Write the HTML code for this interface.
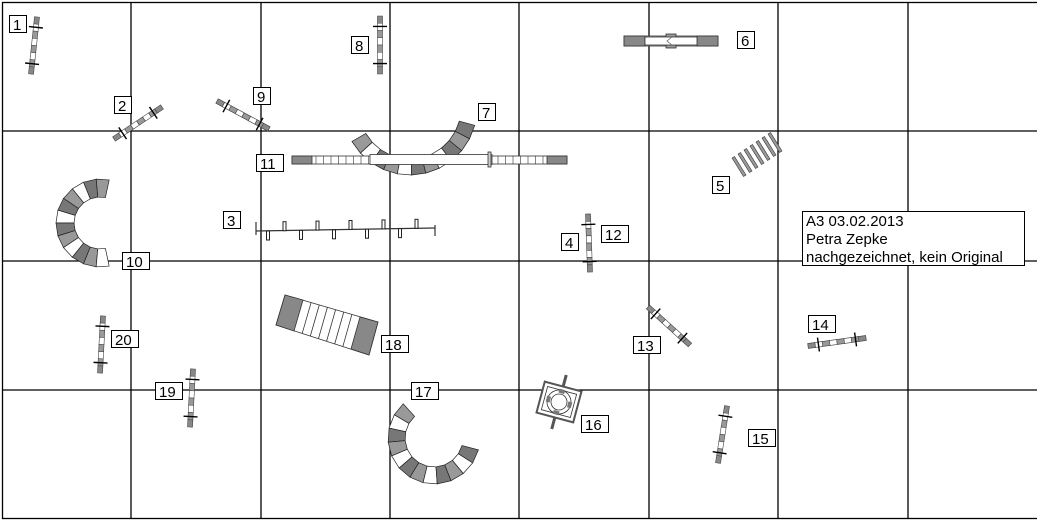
<!DOCTYPE html>
<html><head><meta charset="utf-8"><style>
html,body{margin:0;padding:0;background:#fff;width:1037px;height:521px;overflow:hidden}
svg{display:block}
text{font-family:"Liberation Sans",sans-serif;font-size:15px;fill:#000}
</style></head><body>
<svg id="s" width="1037" height="521" viewBox="0 0 1037 521">
<g stroke="#000" stroke-width="1.3" fill="none">
<rect x="2.5" y="2.5" width="1040" height="516"/>
<line x1="131" y1="2" x2="131" y2="519"/><line x1="261" y1="2" x2="261" y2="519"/>
<line x1="390" y1="2" x2="390" y2="519"/><line x1="519" y1="2" x2="519" y2="519"/>
<line x1="649" y1="2" x2="649" y2="519"/><line x1="778" y1="2" x2="778" y2="519"/>
<line x1="908" y1="2" x2="908" y2="519"/>
<line x1="2" y1="131" x2="1037" y2="131"/><line x1="2" y1="261" x2="1037" y2="261"/>
<line x1="2" y1="390" x2="1037" y2="390"/>
</g>
<g id="dyn"></g>
<!-- dog walk 11 -->
<g stroke="#333" stroke-width="0.8">
<rect x="292" y="156" width="275" height="8" fill="#fff"/>
<rect x="292" y="156" width="20" height="8" fill="#888"/>
<rect x="547" y="156" width="20" height="8" fill="#888"/>
<rect x="370" y="154.5" width="122" height="10" fill="#fff"/>
<rect x="488" y="152" width="3" height="15" fill="#ccc"/>
</g>
<g stroke="#333" stroke-width="0.6" id="dwticks"></g>
<!-- seesaw 6 -->
<g stroke="#333" stroke-width="0.8">
<rect x="624" y="36" width="94" height="10" fill="#fff"/>
<rect x="624" y="36" width="21" height="10" fill="#888"/>
<rect x="697" y="36" width="21" height="10" fill="#888"/>
<rect x="666" y="34" width="10" height="14" fill="#999"/>
<rect x="645" y="37" width="52" height="8" fill="#fff"/>
<polyline points="672,37 667,41 672,45" fill="none" stroke="#666"/>
</g>
<!-- weave 3 -->
<g stroke="#333" stroke-width="1.2" fill="#fff">
<line x1="256" y1="231" x2="435" y2="228"/>
<line x1="256" y1="222" x2="256" y2="235"/>
<line x1="435" y1="225" x2="435" y2="236"/>
</g>
<g id="weave"></g>
<!-- A-frame 18 -->
<g stroke="#333" stroke-width="0.8">
<polygon points="285,295 378,322 369,355 276,325" fill="#fff"/>
<polygon points="285,295 303,300 294,331 276,325" fill="#888"/>
<polygon points="360,317 378,322 369,355 351,349" fill="#888"/>
<g id="af"></g>
</g>
<g id="ladder"></g>
<!-- tyre 16 -->
<g transform="translate(559,402) rotate(15)">
<line x1="0" y1="-28" x2="0" y2="28" stroke="#555" stroke-width="3"/>
<rect x="-19" y="-16" width="38" height="32" fill="#fff" stroke="#555" stroke-width="2"/>
<rect x="-15" y="-12" width="30" height="24" fill="none" stroke="#333" stroke-width="0.8"/>
<circle r="12" fill="none" stroke="#333" stroke-width="0.8"/>
<circle r="8" fill="none" stroke="#333" stroke-width="0.8"/>
<rect x="-3" y="-13" width="6" height="4" fill="#777"/><rect x="-3" y="9" width="6" height="4" fill="#777"/>
<rect x="-13" y="-3" width="4" height="6" fill="#777"/><rect x="9" y="-3" width="4" height="6" fill="#777"/>
</g>
<g stroke="#000" stroke-width="1" fill="#fff">
<rect x="9.5" y="15.5" width="17" height="17"/>
<rect x="114.5" y="96.5" width="17" height="17"/>
<rect x="253.5" y="87.5" width="17" height="17"/>
<rect x="351.5" y="36.5" width="17" height="17"/>
<rect x="478.5" y="103.5" width="17" height="17"/>
<rect x="737.5" y="31.5" width="17" height="17"/>
<rect x="256.5" y="154.5" width="27" height="17"/>
<rect x="223.5" y="211.5" width="17" height="17"/>
<rect x="122.5" y="252.5" width="27" height="17"/>
<rect x="712.5" y="176.5" width="17" height="17"/>
<rect x="561.5" y="233.5" width="17" height="17"/>
<rect x="601.5" y="225.5" width="27" height="17"/>
<rect x="111.5" y="330.5" width="27" height="17"/>
<rect x="155.5" y="382.5" width="27" height="17"/>
<rect x="381.5" y="335.5" width="27" height="17"/>
<rect x="411.5" y="382.5" width="27" height="17"/>
<rect x="581.5" y="415.5" width="27" height="17"/>
<rect x="633.5" y="336.5" width="27" height="17"/>
<rect x="748.5" y="429.5" width="27" height="17"/>
<rect x="808.5" y="315.5" width="27" height="17"/>
<rect x="802.5" y="211.5" width="222" height="54"/>
</g>
<g>
<text x="13" y="30">1</text><text x="118" y="111">2</text><text x="257" y="102">9</text>
<text x="355" y="51">8</text><text x="482" y="118">7</text><text x="741" y="46">6</text>
<text x="260" y="169">11</text><text x="227" y="226">3</text><text x="126" y="267">10</text>
<text x="716" y="191">5</text><text x="565" y="248">4</text><text x="605" y="240">12</text>
<text x="115" y="345">20</text><text x="159" y="397">19</text><text x="385" y="350">18</text>
<text x="415" y="397">17</text><text x="585" y="430">16</text><text x="637" y="351">13</text>
<text x="752" y="444">15</text><text x="812" y="330">14</text>
<text x="806" y="226">A3 03.02.2013</text>
<text x="806" y="244">Petra Zepke</text>
<text x="806" y="262">nachgezeichnet, kein Original</text>
</g>
</svg>
<script>
var NS="http://www.w3.org/2000/svg",dyn=document.getElementById("dyn");
function el(t,a,p){var e=document.createElementNS(NS,t);for(var k in a)e.setAttribute(k,a[k]);(p||dyn).appendChild(e);return e;}
function hurdle(x1,y1,x2,y2){
 var dx=x2-x1,dy=y2-y1,L=Math.hypot(dx,dy),ux=dx/L,uy=dy/L,nx=-uy,ny=ux,w=2.5,n=8;
 for(var i=0;i<n;i++){var a=i/n,b=(i+1)/n;
  var c=(i==0||i==n-1)?"#888":(i%2?"#fff":"#999");
  var p=[[x1+dx*a+nx*w,y1+dy*a+ny*w],[x1+dx*b+nx*w,y1+dy*b+ny*w],[x1+dx*b-nx*w,y1+dy*b-ny*w],[x1+dx*a-nx*w,y1+dy*a-ny*w]];
  el("polygon",{points:p.join(" "),fill:c,stroke:"#444","stroke-width":0.6});}
 [0.18,0.82].forEach(function(t){var cx=x1+dx*t,cy=y1+dy*t;
  el("line",{x1:cx+nx*7,y1:cy+ny*7,x2:cx-nx*7,y2:cy-ny*7,stroke:"#000","stroke-width":1.4});});
}
hurdle(37,17,31,74);hurdle(114,139,162,107);hurdle(217,101,269,129);hurdle(380,16,380,74);
hurdle(588,214,590,272);hurdle(648,307,690,345);hurdle(808,346,866,338);hurdle(727,406,718,463);
hurdle(103,316,100,373);hurdle(193,369,190,427);
function tunnel(cx,cy,ri,ro,a0,a1,n,cols){
 for(var i=0;i<n;i++){var s=(a0+(a1-a0)*i/n)*Math.PI/180,e=(a0+(a1-a0)*(i+1)/n)*Math.PI/180;
  var p=[[cx+ro*Math.cos(s),cy+ro*Math.sin(s)],[cx+ro*Math.cos(e),cy+ro*Math.sin(e)],[cx+ri*Math.cos(e),cy+ri*Math.sin(e)],[cx+ri*Math.cos(s),cy+ri*Math.sin(s)]];
  el("polygon",{points:p.join(" "),fill:cols[i%cols.length],stroke:"#222","stroke-width":0.7});}
}
tunnel(100,223,26,44,-78,-282,12,["#999","#777","#fff","#999","#777","#fff","#777","#999","#fff","#777","#999","#fff"]);
tunnel(434,438,29,46,228,15,12,["#999","#fff","#777","#999","#fff","#777","#999","#fff","#777","#999","#fff","#777"]);
tunnel(410,108,51,67,150,15,11,["#999","#fff","#777","#999","#fff","#777","#999","#fff","#777","#999","#777"]);
var dw=document.getElementById("dwticks");
for(var x=316;x<370;x+=7.5)el("line",{x1:x,y1:156,x2:x,y2:164},dw);
for(var x=498;x<547;x+=7.5)el("line",{x1:x,y1:156,x2:x,y2:164},dw);
var wv=document.getElementById("weave");
for(var i=0;i<10;i++){var x=268+i*16.5,y=231-i*0.3,up=i%2;
 el("rect",{x:x-1.5,y:up?y-9:y,width:3,height:9,fill:"#fff",stroke:"#222","stroke-width":1},wv);}
var af=document.getElementById("af");
for(var i=1;i<7;i++){
 el("line",{x1:303+i*57/7,y1:300+i*17/7,x2:294+i*57/7,y2:331+i*18/7,stroke:"#333","stroke-width":0.8},af);}
var ld=document.getElementById("ladder");
for(var i=0;i<7;i++){var bx=732+i*6,by=158-i*4;
 el("polygon",{points:[[bx,by],[bx+2.5,by-1.5],[bx+14,by+17],[bx+11.5,by+18.5]].join(" "),fill:"#999",stroke:"#333","stroke-width":0.6},ld);}
</script>
</body></html>
